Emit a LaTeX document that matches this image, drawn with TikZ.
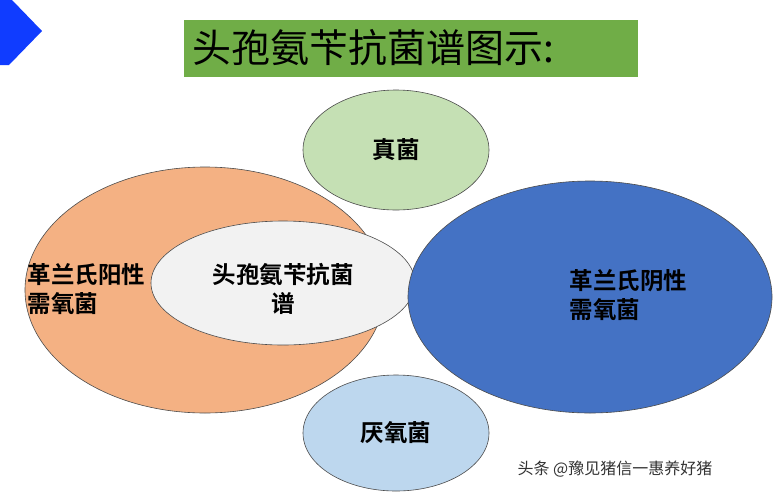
\documentclass[tikz,border=0pt]{standalone}
\usepackage{fontspec}
\setmainfont{Noto Sans CJK SC}[BoldFont={Noto Sans CJK SC Bold}]
\begin{document}
\begin{tikzpicture}[x=1pt,y=-1pt,
  ell/.style={draw=black!70,line width=0.6pt},
  lbl/.style={font=\fontsize{23.5}{29}\selectfont\bfseries,align=left}]
\useasboundingbox (0,0) rectangle (776,496);
\fill[white] (0,0) rectangle (776,496);
\fill[fill={rgb,255:red,16;green,60;blue,255}] (0,0) -- (12,0) -- (42,31) -- (9,65) -- (0,65) -- cycle;
\node[fill={rgb,255:red,112;green,173;blue,71},minimum width=454pt,minimum height=57pt,inner sep=0pt,anchor=north west] (title) at (184,20) {};
\node[anchor=west,font=\fontsize{39}{44}\selectfont,inner sep=0pt] (tt) at (192,48) {头孢氨苄抗菌谱图示:};
\draw[ell,fill={rgb,255:red,197;green,224;blue,180}] (396,150) ellipse [x radius=93,y radius=60];
\node[lbl] (zj) at (396,150) {真菌};
\draw[ell,fill={rgb,255:red,244;green,177;blue,131}] (205,290) ellipse [x radius=180,y radius=123];
\node[lbl,anchor=west] (gp) at (24,289) {革兰氏阳性\\需氧菌};
\draw[ell,fill={rgb,255:red,242;green,242;blue,242}] (283,283) ellipse [x radius=132,y radius=62];
\node[lbl,align=center] (tb) at (283,289) {头孢氨苄抗菌\\谱};
\draw[ell,fill={rgb,255:red,68;green,114;blue,196}] (590,297) ellipse [x radius=182,y radius=116];
\node[lbl,anchor=west] (gn) at (566,295) {革兰氏阴性\\需氧菌};
\draw[ell,fill={rgb,255:red,189;green,215;blue,238}] (396,433) ellipse [x radius=93,y radius=58];
\node[lbl] (yy) at (396,433) {厌氧菌};
\node[font=\fontsize{16}{19}\selectfont,text=black!80,anchor=west] (wm) at (514,469) {头条 @豫见猪信一惠养好猪};
\end{tikzpicture}
\end{document}
